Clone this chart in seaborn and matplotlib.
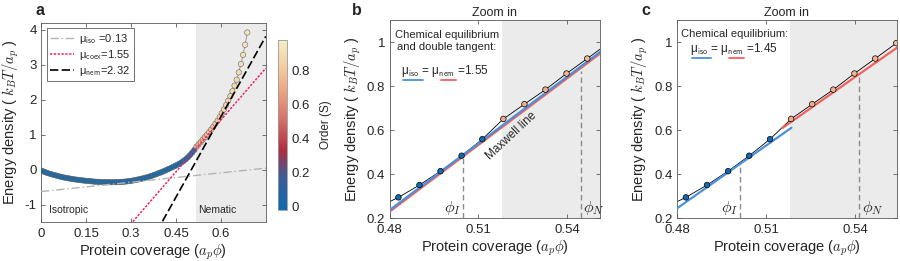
import numpy as np
import pandas as pd
import matplotlib.pyplot as plt
import seaborn as sns
from matplotlib.colors import LinearSegmentedColormap, Normalize
from matplotlib.cm import ScalarMappable

# coverage grid of the simulation (isotropic branch)
phi_iso = [0.0016, 0.0087, 0.0158, 0.0228, 0.0299, 0.0370, 0.0441, 0.0512, 0.0582, 0.0653,
           0.0724, 0.0795, 0.0866, 0.0936, 0.1007, 0.1078, 0.1149, 0.1220, 0.1290, 0.1361,
           0.1432, 0.1503, 0.1574, 0.1644, 0.1715, 0.1786, 0.1857, 0.1928, 0.1998, 0.2069,
           0.2140, 0.2211, 0.2282, 0.2352, 0.2423, 0.2494, 0.2565, 0.2636, 0.2706, 0.2777,
           0.2848, 0.2919, 0.2990, 0.3060, 0.3131, 0.3202, 0.3273, 0.3344, 0.3414, 0.3485,
           0.3556, 0.3627, 0.3698, 0.3768, 0.3839, 0.3910, 0.3981, 0.4052, 0.4122, 0.4193,
           0.4264, 0.4335, 0.4406, 0.4476, 0.4547, 0.4618, 0.4689, 0.4760, 0.4830, 0.4901,
           0.4972, 0.5043, 0.5113]
energy_iso = [-0.030, -0.058, -0.082, -0.103, -0.122, -0.140, -0.157, -0.173, -0.189, -0.205,
              -0.220, -0.232, -0.243, -0.254, -0.265, -0.275, -0.284, -0.292, -0.300, -0.308,
              -0.315, -0.321, -0.327, -0.333, -0.339, -0.345, -0.349, -0.352, -0.355, -0.358,
              -0.360, -0.361, -0.362, -0.362, -0.361, -0.360, -0.358, -0.355, -0.351, -0.346,
              -0.340, -0.333, -0.324, -0.314, -0.303, -0.290, -0.277, -0.263, -0.248, -0.232,
              -0.215, -0.197, -0.177, -0.156, -0.134, -0.110, -0.086, -0.061, -0.035, -0.008,
              0.020, 0.048, 0.077, 0.106, 0.137, 0.170, 0.208, 0.249, 0.295, 0.351,
              0.414, 0.484, 0.559]
order_iso = 0.0

# nematic branch
phi_nem = [0.5184, 0.5255, 0.5326, 0.5397, 0.5467, 0.5538, 0.5609, 0.5680, 0.5750, 0.5821,
           0.5892, 0.5963, 0.6034, 0.6104, 0.6175, 0.6246, 0.6317, 0.6388, 0.6458, 0.6529,
           0.6600, 0.6671, 0.6742, 0.6812, 0.6883]
energy_nem = [0.651, 0.718, 0.784, 0.857, 0.925, 0.995, 1.07, 1.145, 1.225, 1.31,
              1.40, 1.50, 1.61, 1.72, 1.84, 1.97, 2.10, 2.24, 2.40, 2.57,
              2.78, 3.02, 3.28, 3.57, 3.92]
order_nem = [0.70, 0.715, 0.73, 0.745, 0.76, 0.77, 0.78, 0.79, 0.80, 0.81,
             0.82, 0.83, 0.84, 0.85, 0.86, 0.865, 0.87, 0.88, 0.885, 0.89,
             0.90, 0.905, 0.91, 0.92, 0.93]

nematic_start = 0.518

# tangent lines in panel a
tangent_x = [0.0, 0.75]
mu_iso_y = [-0.63, 0.04]
mu_coex_y = [-4.52, 2.90]
mu_nem_y = [-7.70, 3.81]
mu_labels = ['μ$_{\\mathsf{iso}}$ =0.13', 'μ$_{\\mathsf{coex}}$=1.55', 'μ$_{\\mathsf{nem}}$=2.32']

# panel b: double tangent (Maxwell line)
maxwell_x = [0.48, 0.555]
maxwell_iso_y = [0.237, 0.995]
maxwell_nem_y = [0.230, 0.988]
phi_b = [0.5047, 0.5445]
phi_b_top = [0.484, 0.870]

# panel c: chemical equilibrium only
eq_iso_x = [0.48, 0.5185]
eq_iso_y = [0.245, 0.611]
eq_nem_x = [0.5155, 0.5546]
eq_nem_y = [0.610, 0.980]
phi_c = [0.5011, 0.5413]
phi_c_top = [0.445, 0.855]

df = pd.DataFrame({
    'phi': phi_iso + phi_nem,
    'energy': energy_iso + energy_nem,
    'order': [order_iso] * len(phi_iso) + order_nem,
})

sns.set_style('ticks')
plt.rcParams['font.family'] = ['Liberation Sans', 'DejaVu Sans']
plt.rcParams['mathtext.fontset'] = 'cm'
plt.rcParams['axes.unicode_minus'] = False

cmap = LinearSegmentedColormap.from_list('order', [
    (0.0, '#0d6cb3'), (0.2, '#3f5c98'), (0.35, '#b02c40'), (0.55, '#d8776e'),
    (0.72, '#f0aa85'), (0.85, '#f3cfa2'), (1.0, '#f4eec6')])
norm = Normalize(vmin=-0.02, vmax=0.98)

blue = '#4a90da'
red = '#f2615e'
frame = '0.35'

fig = plt.figure(figsize=(9, 2.61), dpi=100)
ax_a = fig.add_axes([0.0456, 0.1494, 0.2497, 0.7636])
cax = fig.add_axes([0.3086, 0.1954, 0.0107, 0.6513])
ax_b = fig.add_axes([0.4328, 0.1636, 0.2339, 0.7598])
ax_c = fig.add_axes([0.7522, 0.1636, 0.2444, 0.7598])


def style_axes(ax):
    for s in ax.spines.values():
        s.set_color(frame)
        s.set_linewidth(0.6)
    ax.tick_params(direction='in', top=True, right=True, length=3, width=0.6,
                   color=frame, labelsize=9.5)
    ax.tick_params(axis='x', pad=4)
    ax.tick_params(axis='y', pad=3)
    ax.set_xlabel(r'Protein coverage ($a_p\phi$)', fontsize=10.5, labelpad=2)
    ax.set_ylabel(r'Energy density ( $k_BT/a_p$ )', fontsize=10.5, labelpad=3)


# ---- panel a
ax_a.axvspan(nematic_start, 0.75, color='#ebebeb', zorder=0, lw=0)
sns.lineplot(data=df, x='phi', y='energy', ax=ax_a, color='0.6', lw=0.7,
             estimator=None, sort=True, zorder=2)
sns.scatterplot(data=df, x='phi', y='energy', hue='order', palette=cmap, hue_norm=norm,
                s=15, edgecolor='0.4', linewidth=0.4, legend=False, ax=ax_a, zorder=3)
sns.lineplot(x=tangent_x, y=mu_iso_y, ax=ax_a, color='#b4b4b4', lw=1.0,
             linestyle=(0, (6, 2, 1, 2)), label=mu_labels[0], zorder=4)
sns.lineplot(x=tangent_x, y=mu_coex_y, ax=ax_a, color='#f5215e', lw=1.1,
             linestyle=(0, (1.5, 1)), label=mu_labels[1], zorder=4)
sns.lineplot(x=tangent_x, y=mu_nem_y, ax=ax_a, color='black', lw=1.2,
             linestyle=(0, (5, 2)), label=mu_labels[2], zorder=4)
ax_a.set_xlim(0, 0.75)
ax_a.set_ylim(-1.5, 4.2)
ax_a.set_xticks([0, 0.15, 0.3, 0.45, 0.6])
ax_a.set_xticklabels(['0', '0.15', '0.3', '0.45', '0.6'])
ax_a.set_yticks([-1, 0, 1, 2, 3, 4])
ax_a.set_yticklabels(['-1', '0', '1', '2', '3', '4'])
style_axes(ax_a)
leg = ax_a.legend(loc='upper left', fontsize=8, frameon=True, fancybox=False,
                  handlelength=2.2, handletextpad=0.4, labelspacing=0.2,
                  borderpad=0.3, borderaxespad=0.5)
leg.get_frame().set_edgecolor('0.2')
leg.get_frame().set_linewidth(0.6)
ax_a.text(0.028, -1.17, 'Isotropic', fontsize=7.5, va='center')
ax_a.text(0.524, -1.17, 'Nematic', fontsize=7.5, va='center')
fig.text(0.040, 0.99, 'a', fontsize=11.5, fontweight='bold', va='top')

cb = fig.colorbar(ScalarMappable(norm=norm, cmap=cmap), cax=cax)
cb.set_ticks([0, 0.2, 0.4, 0.6, 0.8])
cb.set_ticklabels(['0', '0.2', '0.4', '0.6', '0.8'])
cb.outline.set_edgecolor('0.6')
cb.outline.set_linewidth(0.6)
cax.tick_params(direction='in', length=2, width=0.5, color='0.6', labelsize=9.5, pad=3)
cb.set_label('Order (S)', fontsize=8.5, labelpad=7)

# ---- panels b and c
for ax, xmax in [(ax_b, 0.551), (ax_c, 0.554)]:
    ax.axvspan(nematic_start, 0.56, color='#ebebeb', zorder=0, lw=0)
    sns.lineplot(data=df, x='phi', y='energy', ax=ax, color='black', lw=0.6,
                 estimator=None, sort=True, zorder=2)
    sns.scatterplot(data=df, x='phi', y='energy', hue='order', palette=cmap, hue_norm=norm,
                    s=16, edgecolor='black', linewidth=0.5, legend=False, ax=ax, zorder=5)
    ax.set_xlim(0.48, xmax)
    ax.set_ylim(0.2, 1.1)
    ax.set_xticks([0.48, 0.51, 0.54])
    ax.set_xticklabels(['0.48', '0.51', '0.54'])
    ax.set_yticks([0.2, 0.4, 0.6, 0.8, 1.0])
    ax.set_yticklabels(['0.2', '0.4', '0.6', '0.8', '1'])
    style_axes(ax)
    ax.set_title('Zoom in', fontsize=9, pad=3)

# b
sns.lineplot(x=maxwell_x, y=maxwell_nem_y, ax=ax_b, color=red, lw=1.6, zorder=3)
sns.lineplot(x=maxwell_x, y=maxwell_iso_y, ax=ax_b, color=blue, lw=1.6, zorder=4)
for xv, top in zip(phi_b, phi_b_top):
    ax_b.plot([xv, xv], [0.2, top], color='0.55', lw=1.0, ls=(0, (4, 2.5)), zorder=2)
ax_b.text(phi_b[0] - 0.0006, 0.205, r'$\phi_I$', ha='right', va='bottom', fontsize=11.5)
ax_b.text(phi_b[1] + 0.0008, 0.205, r'$\phi_N$', ha='left', va='bottom', fontsize=11.5)
ax_b.text(0.4993, 1.005, 'Chemical equilibrium\nand double tangent:', ha='center',
          va='center', fontsize=8, linespacing=1.3)
ax_b.text(0.4840, 0.870, 'μ$_{\\mathsf{iso}}$ = μ$_{\\mathsf{nem}}$ =1.55', fontsize=8.5, va='center')
ax_b.plot([0.4847, 0.4913], [0.826, 0.826], color=blue, lw=1.3)
ax_b.plot([0.4972, 0.5024], [0.826, 0.826], color=red, lw=1.3)
ax_b.text(0.5210, 0.572, 'Maxwell line', fontsize=8.5, rotation=43, ha='center', va='center')
fig.text(0.391, 0.99, 'b', fontsize=11.5, fontweight='bold', va='top')

# c
sns.lineplot(x=eq_iso_x, y=eq_iso_y, ax=ax_c, color=blue, lw=1.6, zorder=3)
sns.lineplot(x=eq_nem_x, y=eq_nem_y, ax=ax_c, color=red, lw=1.6, zorder=3)
for xv, top in zip(phi_c, phi_c_top):
    ax_c.plot([xv, xv], [0.2, top], color='0.55', lw=1.0, ls=(0, (4, 2.5)), zorder=2)
ax_c.text(phi_c[0] - 0.0006, 0.205, r'$\phi_I$', ha='right', va='bottom', fontsize=11.5)
ax_c.text(phi_c[1] + 0.0008, 0.205, r'$\phi_N$', ha='left', va='bottom', fontsize=11.5)
ax_c.text(0.4814, 1.038, 'Chemical equilibrium:', fontsize=8, va='center')
ax_c.text(0.4843, 0.970, 'μ$_{\\mathsf{iso}}$ = μ$_{\\mathsf{nem}}$ =1.45', fontsize=8.5, va='center')
ax_c.plot([0.4850, 0.4916], [0.926, 0.926], color=blue, lw=1.3)
ax_c.plot([0.4975, 0.5027], [0.926, 0.926], color=red, lw=1.3)
fig.text(0.713, 0.99, 'c', fontsize=11.5, fontweight='bold', va='top')

fig.savefig('out.png', dpi=100)
